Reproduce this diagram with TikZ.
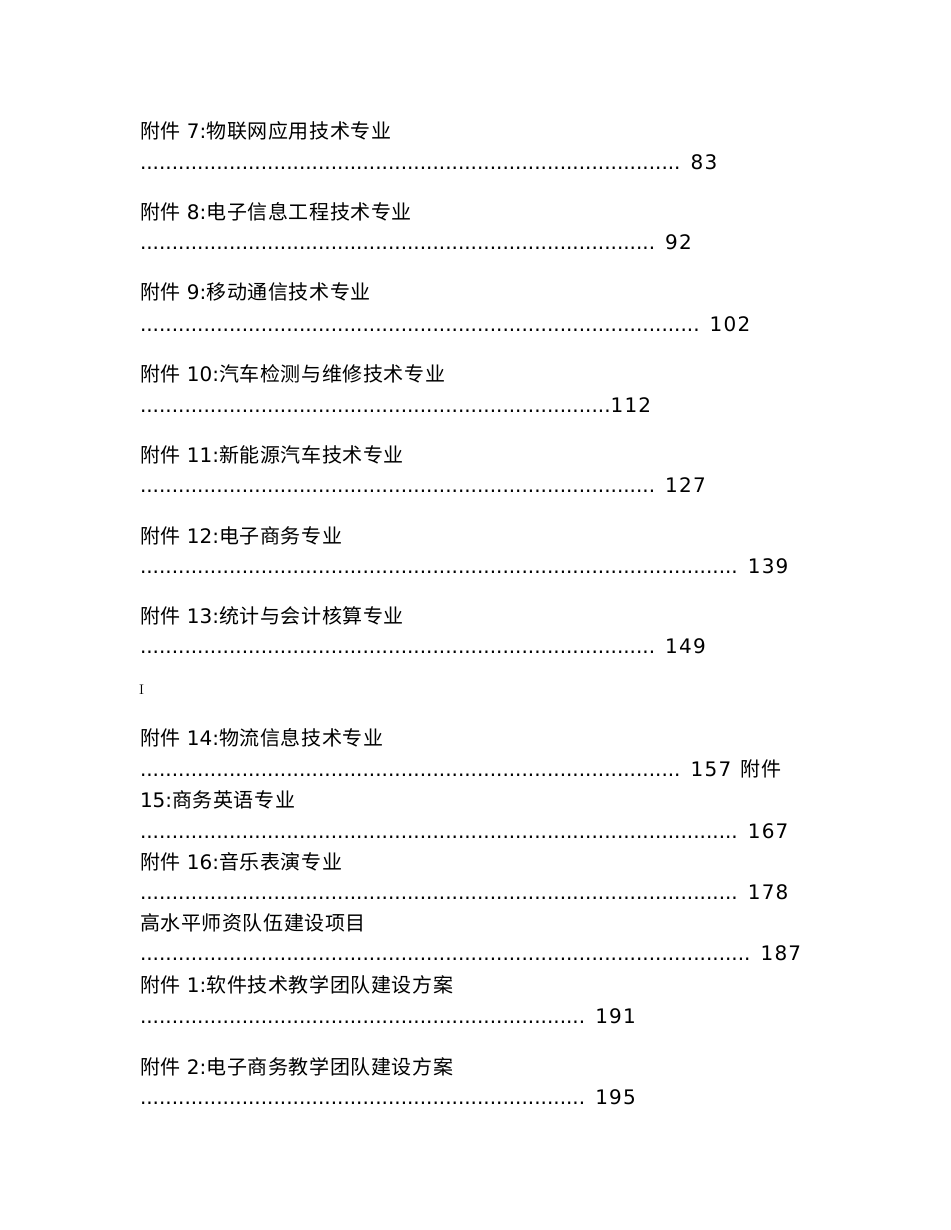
\documentclass[tikz,border=0pt]{standalone}
\usepackage{fontspec}
\usetikzlibrary{positioning}
\newfontfamily\cjk[LetterSpace=3]{Noto Sans CJK SC}
\newfontfamily\latin{DejaVu Sans}
\newfontfamily\pagenum[LetterSpace=6]{DejaVu Sans}
% Row of leader dots
\newcommand\dotrun[1]{{\latin\foreach\k in {1,...,#1}{.}}}
\tikzset{
  font=\fontsize{20}{24}\selectfont,
  % Entry title line
  title/.style={anchor=base west, inner sep=0pt, outer sep=0pt},
  % Dots and page number line
  leader/.style={title, font=\fontsize{20}{24}\selectfont\pagenum},
  % Stray page mark
  pagemark/.style={title, font=\fontsize{14}{16}\selectfont\rmfamily},
}
\begin{document}
\begin{tikzpicture}[x=1pt, y=-1pt]
  \useasboundingbox[fill=white] (0,0) rectangle (950,1230);

  \node[title] (t7) at (140,139) {\cjk 附件\latin{} 7:\cjk 物联网应用技术专业};
  \node[leader] (d7) at (140,170) {\dotrun{85} 83};

  \node[title] (t8) at (140,220) {\cjk 附件\latin{} 8:\cjk 电子信息工程技术专业};
  \node[leader] (d8) at (140,250) {\dotrun{81} 92};

  \node[title] (t9) at (140,300) {\cjk 附件\latin{} 9:\cjk 移动通信技术专业};
  \node[leader] (d9) at (140,331) {\dotrun{88} 102};

  \node[title] (t10) at (140,381) {\cjk 附件\latin{} 10:\cjk 汽车检测与维修技术专业};
  \node[leader] (d10) at (140,412) {\dotrun{74}112};

  \node[title] (t11) at (140,462) {\cjk 附件\latin{} 11:\cjk 新能源汽车技术专业};
  \node[leader] (d11) at (140,492) {\dotrun{81} 127};

  \node[title] (t12) at (140,543) {\cjk 附件\latin{} 12:\cjk 电子商务专业};
  \node[leader] (d12) at (140,573) {\dotrun{94} 139};

  \node[title] (t13) at (140,623) {\cjk 附件\latin{} 13:\cjk 统计与会计核算专业};
  \node[leader] (d13) at (140,653) {\dotrun{81} 149};

  \node[pagemark] (mark) at (139,694) {I};

  \node[title] (t14) at (140,745) {\cjk 附件\latin{} 14:\cjk 物流信息技术专业};
  \node[leader] (d14) at (140,776) {\dotrun{85} 157 \hspace{2pt}{\cjk 附件}};

  \node[title] (t15) at (140,807) {\latin 15:\cjk 商务英语专业};
  \node[leader] (d15) at (140,838) {\dotrun{94} 167};

  \node[title] (t16) at (140,869) {\cjk 附件\latin{} 16:\cjk 音乐表演专业};
  \node[leader] (d16) at (140,899) {\dotrun{94} 178};

  \node[title] (team) at (140,930) {\cjk 高水平师资队伍建设项目};
  \node[leader] (dteam) at (140,960) {\dotrun{96} 187};

  \node[title] (t1) at (140,992) {\cjk 附件\latin{} 1:\cjk 软件技术教学团队建设方案};
  \node[leader] (d1) at (140,1023) {\dotrun{70} 191};

  \node[title] (t2) at (140,1074) {\cjk 附件\latin{} 2:\cjk 电子商务教学团队建设方案};
  \node[leader] (d2) at (140,1104) {\dotrun{70} 195};
\end{tikzpicture}
\end{document}
